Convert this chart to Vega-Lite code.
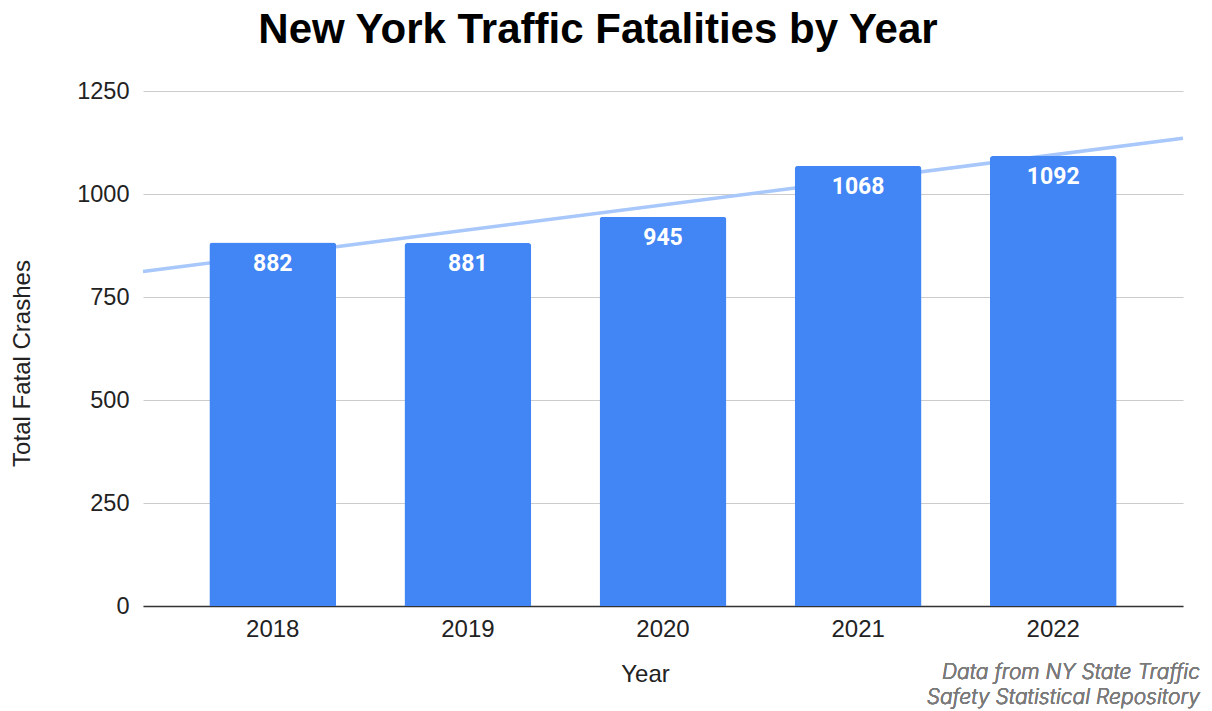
{
  "$schema": "https://vega.github.io/schema/vega-lite/v6.json",
  "width": 1040,
  "height": 515,
  "autosize": {"type": "none"},
  "padding": {"left": 143, "top": 91, "right": 29, "bottom": 105},
  "background": "white",
  "title": {
    "text": "New York Traffic Fatalities by Year",
    "font": "Liberation Sans",
    "fontSize": 42,
    "fontWeight": "bold",
    "color": "#000000",
    "anchor": "middle",
    "offset": 27,
    "dx": -65
  },
  "data": {
    "values": [
      {"Year": 2018, "Crashes": 882},
      {"Year": 2019, "Crashes": 881},
      {"Year": 2020, "Crashes": 945},
      {"Year": 2021, "Crashes": 1068},
      {"Year": 2022, "Crashes": 1092}
    ]
  },
  "config": {
    "view": {"stroke": null},
    "axis": {"labelFont": "Liberation Sans", "titleFont": "Liberation Sans", "labelColor": "#222222", "titleColor": "#222222"}
  },
  "layer": [
    {
      "layer": [
        {
          "transform": [{"regression": "Crashes", "on": "Year", "extent": [2017.335, 2022.665]}],
          "mark": {"type": "line", "color": "#a8c7fa", "strokeWidth": 3.5, "clip": false},
          "encoding": {
            "x": {"field": "Year", "type": "quantitative", "scale": {"domain": [2017.335, 2022.665], "nice": false, "zero": false}, "axis": null},
            "y": {"field": "Crashes", "type": "quantitative"}
          }
        },
        {
          "mark": {"type": "text", "text": ["Data from NY State Traffic", "Safety Statistical Repository"], "font": "Inter", "fontStyle": "italic", "fontWeight": 300, "fontSize": 21, "color": "#7a7a7a", "align": "right", "baseline": "alphabetic", "lineHeight": 25, "clip": false, "dx": 17},
          "encoding": {
            "x": {"datum": 2022.665, "type": "quantitative", "scale": {"domain": [2017.335, 2022.665], "nice": false, "zero": false}, "axis": null},
            "y": {"datum": -177, "type": "quantitative"}
          }
        }
      ]
    },
    {
      "encoding": {
        "x": {
          "field": "Year", "type": "ordinal",
          "scale": {"paddingInner": 0.35, "paddingOuter": 0.34},
          "axis": {
            "title": "Year", "labelAngle": 0, "labelFontSize": 24, "titleFontSize": 24,
            "titleFontWeight": "normal", "ticks": false, "labelPadding": 11, "titlePadding": 21,
            "domainColor": "#333333", "domainWidth": 1.5, "titleX": 502
          }
        },
        "y": {
          "field": "Crashes", "type": "quantitative",
          "scale": {"domain": [0, 1250], "nice": false},
          "axis": {
            "title": "Total Fatal Crashes", "values": [0, 250, 500, 750, 1000, 1250], "format": "d",
            "labelFontSize": 23.5, "titleFontSize": 24, "titleFontWeight": "normal",
            "ticks": false, "domain": false, "labelPadding": 14, "titlePadding": 42, "titleY": 272,
            "gridColor": "#cccccc", "gridWidth": 1.2
          }
        }
      },
      "layer": [
        {"mark": {"type": "bar", "color": "#4285f4", "cornerRadiusTopLeft": 3, "cornerRadiusTopRight": 3}},
        {
          "mark": {"type": "text", "color": "white", "font": "Roboto", "fontWeight": "bold", "fontSize": 23, "baseline": "top", "dy": 10},
          "encoding": {"text": {"field": "Crashes", "type": "quantitative"}}
        }
      ]
    }
  ],
  "resolve": {"scale": {"x": "independent"}}
}
